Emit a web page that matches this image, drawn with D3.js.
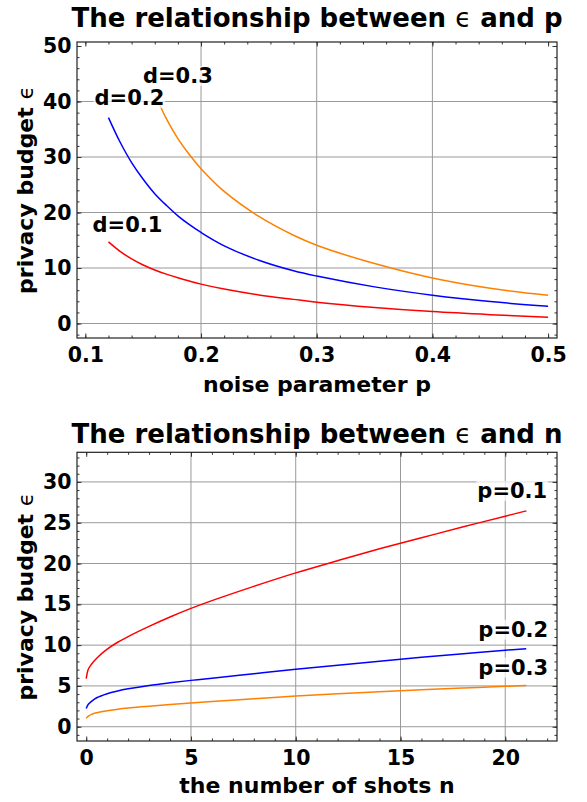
<!DOCTYPE html>
<html>
<head>
<meta charset="utf-8">
<script src="https://cdn.jsdelivr.net/npm/d3@7"></script>
<style>
  html, body { margin: 0; padding: 0; background: #fff; }
  svg { display: block; }
</style>
</head>
<body>
<svg id="chart" width="587" height="802"></svg>
<script>
// ---------- data ----------
// Top chart: privacy budget ε vs noise parameter p
const pValues = [0.12, 0.13, 0.14, 0.15, 0.16, 0.17, 0.18, 0.19, 0.2, 0.22, 0.25, 0.28, 0.3, 0.35, 0.4, 0.45, 0.5];
const epsD01  = [14.7, 13.0, 11.65, 10.55, 9.65, 8.9, 8.25, 7.65, 7.1, 6.2, 5.15, 4.35, 3.85, 2.9, 2.15, 1.6, 1.15];
const epsD02  = [37.1, 32.7, 29.0, 26.0, 23.4, 21.3, 19.4, 17.8, 16.4, 14.0, 11.4, 9.5, 8.55, 6.6, 5.1, 3.95, 3.1];
const pValuesD03 = [0.161, 0.17, 0.18, 0.19, 0.2, 0.22, 0.25, 0.28, 0.3, 0.35, 0.4, 0.45, 0.5];
const epsD03  = [41.0, 36.9, 33.3, 30.4, 27.9, 23.8, 19.3, 15.9, 14.1, 10.8, 8.2, 6.35, 5.1];
const dLabels = ["d=0.1", "d=0.2", "d=0.3"];

// Bottom chart: privacy budget ε vs number of shots n
const nValues = [0, 0.1, 0.25, 0.5, 1, 1.5, 2, 3, 4, 5, 6, 8, 10, 12, 14, 16, 18, 20, 21];
const epsP01  = [5.9, 7.05, 7.65, 8.4, 9.5, 10.35, 11.05, 12.3, 13.45, 14.5, 15.45, 17.2, 18.85, 20.35, 21.8, 23.15, 24.5, 25.8, 26.45];
const epsP02  = [2.24, 2.75, 3.1, 3.55, 4.05, 4.38, 4.64, 5.06, 5.39, 5.68, 5.95, 6.49, 7.03, 7.54, 8.03, 8.5, 8.95, 9.38, 9.56];
const epsP03  = [1.02, 1.3, 1.52, 1.72, 1.97, 2.14, 2.28, 2.51, 2.71, 2.9, 3.08, 3.42, 3.75, 4.03, 4.28, 4.52, 4.74, 4.95, 5.04];
const pLabels = ["p=0.1", "p=0.2", "p=0.3"];

// ticks and grid
const topXTicks = [0.1, 0.2, 0.3, 0.4, 0.5];
const topYTicks = [0, 10, 20, 30, 40, 50];
const topXGrid  = [0.2, 0.3, 0.4];
const topYGrid  = [0, 10, 20, 30, 40];
const botXTicks = [0, 5, 10, 15, 20];
const botYTicks = [0, 5, 10, 15, 20, 25, 30];
const botXGrid  = [5, 10, 15, 20];
const botYGrid  = [0, 5, 10, 15, 20, 25, 30];

const seriesColors = ["#ff0000", "#0000ff", "#ff8000"];
const FONT = "'DejaVu Sans', 'Liberation Sans', sans-serif";

const svg = d3.select("#chart");

function panel(cfg) {
  const g = svg.append("g");
  const x = d3.scaleLinear().domain(cfg.xDomain).range([cfg.left, cfg.right]);
  const y = d3.scaleLinear().domain(cfg.yDomain).range([cfg.bottom, cfg.top]);

  // grid
  g.append("g").selectAll("line").data(cfg.xGrid).join("line")
    .attr("x1", d => x(d)).attr("x2", d => x(d))
    .attr("y1", cfg.top).attr("y2", cfg.bottom)
    .attr("stroke", "#999").attr("stroke-width", 1);
  g.append("g").selectAll("line").data(cfg.yGrid).join("line")
    .attr("x1", cfg.left).attr("x2", cfg.right)
    .attr("y1", d => y(d)).attr("y2", d => y(d))
    .attr("stroke", "#999").attr("stroke-width", 1);

  // curves
  const line = d3.line().x(d => x(d[0])).y(d => y(d[1])).curve(d3.curveCatmullRom.alpha(0.5));
  cfg.series.forEach((s, i) => {
    const pts = s.xs.map((v, k) => [v, s.ys[k]]);
    g.append("path").datum(pts)
      .attr("d", line)
      .attr("fill", "none")
      .attr("stroke", seriesColors[i])
      .attr("stroke-width", 1.5);
  });

  // axes: inward ticks on all four sides
  const styleAxis = sel => {
    sel.select(".domain").remove();
    sel.selectAll(".tick line").attr("stroke", "#333");
    sel.attr("font-family", FONT).attr("font-size", 20.5).attr("font-weight", "bold");
    sel.selectAll(".tick text").attr("fill", "#000");
  };
  const [xMin, xMax] = cfg.xDomain, [yMin, yMax] = cfg.yDomain;
  const xMinor = d3.range(Math.ceil(xMin / cfg.xMinorStep) * cfg.xMinorStep, xMax, cfg.xMinorStep);
  const yMinor = d3.range(Math.ceil(yMin / cfg.yMinorStep) * cfg.yMinorStep, yMax, cfg.yMinorStep);

  g.append("g").attr("transform", `translate(0,${cfg.bottom})`)
    .call(d3.axisBottom(x).tickValues(xMinor).tickSizeInner(-2.5).tickSizeOuter(0).tickFormat(""))
    .call(styleAxis);
  g.append("g").attr("transform", `translate(0,${cfg.bottom})`)
    .call(d3.axisBottom(x).tickValues(cfg.xTicks).tickSizeInner(-4.5).tickSizeOuter(0)
      .tickPadding(9.2).tickFormat(cfg.xFormat))
    .call(styleAxis);
  g.append("g").attr("transform", `translate(0,${cfg.top})`)
    .call(d3.axisTop(x).tickValues(xMinor).tickSizeInner(-2.5).tickSizeOuter(0).tickFormat(""))
    .call(styleAxis);
  g.append("g").attr("transform", `translate(0,${cfg.top})`)
    .call(d3.axisTop(x).tickValues(cfg.xTicks).tickSizeInner(-4.5).tickSizeOuter(0).tickFormat(""))
    .call(styleAxis);

  g.append("g").attr("transform", `translate(${cfg.left},0)`)
    .call(d3.axisLeft(y).tickValues(yMinor).tickSizeInner(-2.5).tickSizeOuter(0).tickFormat(""))
    .call(styleAxis);
  g.append("g").attr("transform", `translate(${cfg.left},0)`)
    .call(d3.axisLeft(y).tickValues(cfg.yTicks).tickSizeInner(-4.5).tickSizeOuter(0)
      .tickPadding(5.5).tickFormat(d3.format("d")))
    .call(styleAxis);
  g.append("g").attr("transform", `translate(${cfg.right},0)`)
    .call(d3.axisRight(y).tickValues(yMinor).tickSizeInner(-2.5).tickSizeOuter(0).tickFormat(""))
    .call(styleAxis);
  g.append("g").attr("transform", `translate(${cfg.right},0)`)
    .call(d3.axisRight(y).tickValues(cfg.yTicks).tickSizeInner(-4.5).tickSizeOuter(0).tickFormat(""))
    .call(styleAxis);

  // frame
  g.append("rect")
    .attr("x", cfg.left).attr("y", cfg.top)
    .attr("width", cfg.right - cfg.left).attr("height", cfg.bottom - cfg.top)
    .attr("fill", "none").attr("stroke", "#222").attr("stroke-width", 1.2);

  // curve labels
  cfg.series.forEach((s, i) => {
    const k = cfg.labelAtEnd ? s.xs.length - 1 : 0;
    const px = x(s.xs[k]), py = y(s.ys[k]);
    const t = g.append("text")
      .attr("x", px + cfg.labelDx[i]).attr("y", py + cfg.labelDy[i])
      .attr("text-anchor", cfg.labelAnchor)
      .attr("font-family", FONT).attr("font-size", 21).attr("font-weight", "bold")
      .attr("fill", "#000")
      .text(cfg.labels[i]);
    const bb = t.node().getBBox();
    g.insert("rect", () => t.node())
      .attr("x", bb.x - 1).attr("y", bb.y + 2)
      .attr("width", bb.width + 2).attr("height", bb.height - 4)
      .attr("fill", "#fff").attr("fill-opacity", 0.7);
  });

  // title
  const title = g.append("text")
    .attr("x", (cfg.left + cfg.right) / 2).attr("y", cfg.titleY)
    .attr("text-anchor", "middle")
    .attr("font-family", FONT).attr("font-size", 26).attr("font-weight", "bold");
  title.append("tspan").text("The relationship between ");
  title.append("tspan").attr("font-weight", "normal").text("ϵ");
  title.append("tspan").text(" and " + cfg.titleVar);

  // x axis label
  g.append("text")
    .attr("x", (cfg.left + cfg.right) / 2).attr("y", cfg.xLabelY)
    .attr("text-anchor", "middle")
    .attr("font-family", FONT).attr("font-size", 22).attr("font-weight", "bold")
    .text(cfg.xLabel);

  // y axis label
  const yl = g.append("text")
    .attr("transform", `translate(33,${(cfg.top + cfg.bottom) / 2}) rotate(-90)`)
    .attr("text-anchor", "middle")
    .attr("font-family", FONT).attr("font-size", 22).attr("font-weight", "bold");
  yl.append("tspan").text("privacy budget ");
  yl.append("tspan").attr("font-weight", "normal").text("ϵ");
}

panel({
  left: 77, right: 557, top: 42, bottom: 338,
  xDomain: [0.0928, 0.5077], yDomain: [-2.61, 50.72],
  xTicks: topXTicks, yTicks: topYTicks, xGrid: topXGrid, yGrid: topYGrid,
  xMinorStep: 0.02, yMinorStep: 2,
  xFormat: d3.format(".1f"),
  series: [
    { xs: pValues, ys: epsD01 },
    { xs: pValues, ys: epsD02 },
    { xs: pValuesD03, ys: epsD03 }
  ],
  labels: dLabels, labelAtEnd: false, labelAnchor: "middle",
  labelDx: [19, 21, 22], labelDy: [-9.5, -12.5, -13],
  titleY: 27, titleVar: "p",
  xLabel: "noise parameter p", xLabelY: 392
});

panel({
  left: 77, right: 557, top: 452.3, bottom: 741,
  xDomain: [-0.44, 22.47], yDomain: [-1.75, 33.63],
  xTicks: botXTicks, yTicks: botYTicks, xGrid: botXGrid, yGrid: botYGrid,
  xMinorStep: 1, yMinorStep: 1,
  xFormat: d3.format("d"),
  series: [
    { xs: nValues, ys: epsP01 },
    { xs: nValues, ys: epsP02 },
    { xs: nValues, ys: epsP03 }
  ],
  labels: pLabels, labelAtEnd: true, labelAnchor: "end",
  labelDx: [21, 22, 22], labelDy: [-13, -12, -11],
  titleY: 442.5, titleVar: "n",
  xLabel: "the number of shots n", xLabelY: 793
});
</script>
</body>
</html>
